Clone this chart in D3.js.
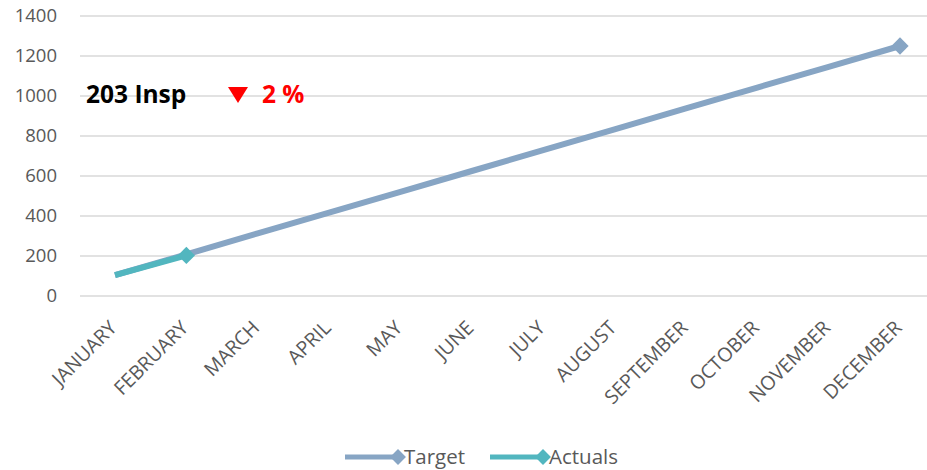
<!DOCTYPE html>
<html>
<head>
<meta charset="utf-8">
<script src="https://cdn.jsdelivr.net/npm/d3@7"></script>
<style>
    body { margin: 0; background: #fff; }
    svg { display: block; font-family: "Open Sans", sans-serif; }
</style>
</head>
<body>
<script>
let months = ["JANUARY", "FEBRUARY", "MARCH", "APRIL", "MAY", "JUNE", "JULY",
    "AUGUST", "SEPTEMBER", "OCTOBER", "NOVEMBER", "DECEMBER"];
let target = [104, 208, 313, 417, 521, 625, 729, 833, 938, 1042, 1146, 1250];
let actuals = [104, 203];
let yTicks = [0, 200, 400, 600, 800, 1000, 1200, 1400];

let width = 927;
let height = 470;
let colTarget = "#87a5c4";
let colActual = "#52b6bf";

let svg = d3.select("body")
    .append("svg")
    .attr("width", width)
    .attr("height", height);

let x = d3.scalePoint()
    .domain(months)
    .range([115, 900]);

let y = d3.scaleLinear()
    .domain([0, 1400])
    .range([296, 16]);

// gridlines
svg.append("g")
    .selectAll("line")
    .data(yTicks)
    .enter()
    .append("line")
    .attr("x1", 80)
    .attr("x2", 927)
    .attr("y1", d => y(d))
    .attr("y2", d => y(d))
    .attr("stroke", "#d9d9d9")
    .attr("stroke-width", 1.5);

// y labels
svg.append("g")
    .selectAll("text")
    .data(yTicks)
    .enter()
    .append("text")
    .attr("x", 57)
    .attr("y", d => y(d))
    .attr("dy", "0.35em")
    .attr("text-anchor", "end")
    .attr("font-size", 18.5)
    .attr("fill", "#595959")
    .text(d => d);

// x labels
svg.append("g")
    .selectAll("text")
    .data(months)
    .enter()
    .append("text")
    .attr("transform", d => "translate(" + (x(d) + 3) + ",329) rotate(-45)")
    .attr("text-anchor", "end")
    .attr("font-size", 19.5)
    .attr("fill", "#595959")
    .text(d => d);

let line = d3.line()
    .x((d, i) => x(months[i]))
    .y(d => y(d));

function diamond(g, cx, cy, size, color) {
    g.append("path")
        .attr("d", d3.symbol().type(d3.symbolDiamond2).size(size)())
        .attr("transform", "translate(" + cx + "," + cy + ")")
        .attr("fill", color);
}

svg.append("path")
    .datum(target)
    .attr("d", line)
    .attr("fill", "none")
    .attr("stroke", colTarget)
    .attr("stroke-width", 6);

diamond(svg, x(months[11]), y(target[11]), 190, colTarget);

svg.append("path")
    .datum(actuals)
    .attr("d", line)
    .attr("fill", "none")
    .attr("stroke", colActual)
    .attr("stroke-width", 6);

diamond(svg, x(months[1]), y(actuals[1]), 190, colActual);

// annotation
svg.append("text")
    .attr("x", 86)
    .attr("y", 103)
    .attr("font-size", 24.5)
    .attr("font-weight", "bold")
    .attr("fill", "#000")
    .text(actuals[1] + " Insp");

svg.append("path")
    .attr("d", "M228,87 L248,87 L238,103 Z")
    .attr("fill", "#ff0000");

let pct = Math.round((target[1] - actuals[1]) / target[1] * 100);
svg.append("text")
    .attr("x", 262)
    .attr("y", 103)
    .attr("font-size", 24.5)
    .attr("font-weight", "bold")
    .attr("fill", "#ff0000")
    .text(pct + " %");

// legend
let legend = [
    { name: "Target", color: colTarget, x: 345 },
    { name: "Actuals", color: colActual, x: 490 }
];
legend.forEach(function (l) {
    let g = svg.append("g");
    g.append("line")
        .attr("x1", l.x)
        .attr("x2", l.x + 53)
        .attr("y1", 457)
        .attr("y2", 457)
        .attr("stroke", l.color)
        .attr("stroke-width", 5);
    diamond(g, l.x + 53, 457, 160, l.color);
    g.append("text")
        .attr("x", l.x + 59)
        .attr("y", 457)
        .attr("dy", "0.35em")
        .attr("font-size", 20.5)
        .attr("fill", "#595959")
        .text(l.name);
});
</script>
</body>
</html>
